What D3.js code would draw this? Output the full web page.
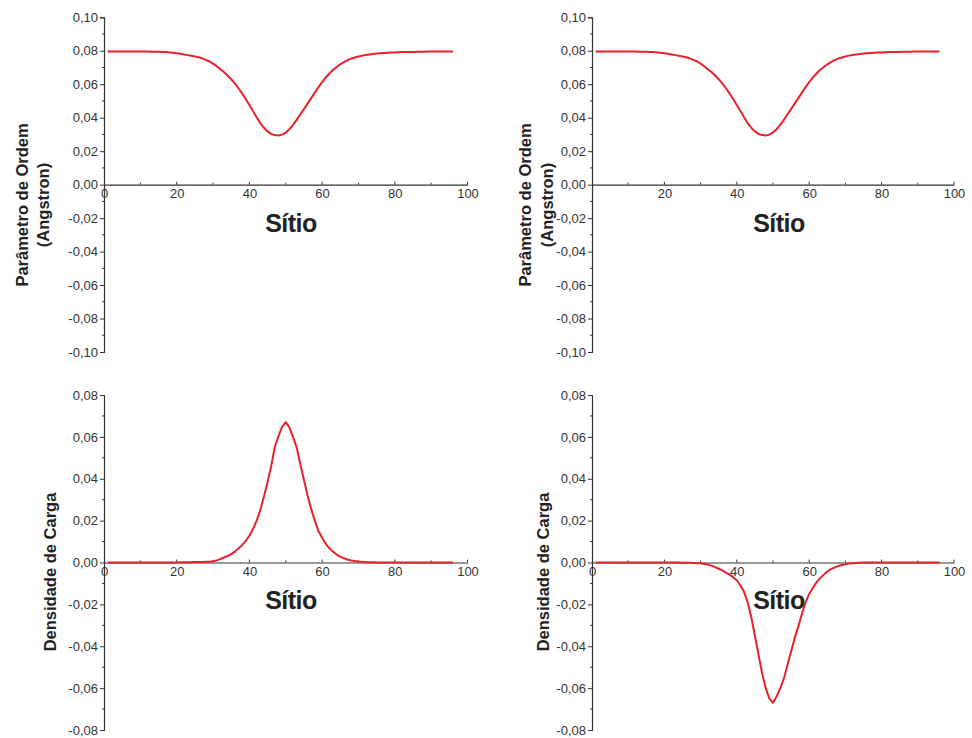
<!DOCTYPE html>
<html>
<head>
<meta charset="utf-8">
<script src="https://cdn.jsdelivr.net/npm/d3@7"></script>
<style>
  html, body { margin: 0; padding: 0; background: #fff; }
  svg { display: block; }
  text { font-family: "Liberation Sans", Arial, sans-serif; }
</style>
</head>
<body>
<svg id="chart" width="972" height="738"></svg>
<script>
// ---------- DATA ----------
const sites = d3.range(1, 97); // 1..96

// Order parameter (Angstron), sites 1..96
const orderParam = [
  0.0795, 0.0795, 0.0795, 0.0795, 0.0795, 0.0795, 0.0795, 0.0795, 0.0795, 0.0795,
  0.0795, 0.0795, 0.0794, 0.0794, 0.0794, 0.0793, 0.0792, 0.0790, 0.0788, 0.0785,
  0.0782, 0.0778, 0.0774, 0.0770, 0.0766, 0.0761, 0.0755, 0.0746, 0.0736, 0.0723,
  0.0708, 0.0690, 0.0673, 0.0652, 0.0630, 0.0605, 0.0576, 0.0545, 0.0512, 0.0476,
  0.0440, 0.0402, 0.0368, 0.0340, 0.0318, 0.0303, 0.0296, 0.0294, 0.0299, 0.0311,
  0.0331, 0.0357, 0.0387, 0.0419, 0.0451, 0.0484, 0.0517, 0.0550, 0.0583, 0.0613,
  0.0640, 0.0664, 0.0685, 0.0703, 0.0719, 0.0732, 0.0744, 0.0753, 0.0760, 0.0766,
  0.0771, 0.0775, 0.0778, 0.0781, 0.0783, 0.0785, 0.0787, 0.0788, 0.0789, 0.0790,
  0.0791, 0.0792, 0.0792, 0.0793, 0.0793, 0.0794, 0.0794, 0.0794, 0.0795, 0.0795,
  0.0795, 0.0795, 0.0795, 0.0795, 0.0795, 0.0795
];

// Charge density, left panel (positive peak), sites 1..96
const chargeLeft = [
  0, 0, 0, 0, 0, 0, 0, 0, 0, 0,
  0, 0, 0, 0, 0, 0, 0, 0, 0, 0,
  0.0001, 0.0001, 0.0001, 0.0001, 0.0002, 0.0002, 0.0002, 0.0003, 0.0004, 0.0006,
  0.0010, 0.0016, 0.0024, 0.0031, 0.0040, 0.0052, 0.0067, 0.0083, 0.0103, 0.0128,
  0.0160, 0.0200, 0.0250, 0.0315, 0.0385, 0.0460, 0.0553, 0.0604, 0.0648, 0.0670,
  0.0645, 0.0600, 0.0550, 0.0470, 0.0395, 0.0320, 0.0255, 0.0200, 0.0150, 0.0118,
  0.0090, 0.0068, 0.0052, 0.0038, 0.0028, 0.0020, 0.0014, 0.0010, 0.0007, 0.0005,
  0.0003, 0.0002, 0.0001, 0.0001, 0, 0, 0, 0, 0, 0,
  0, 0, 0, 0, 0, 0, 0, 0, 0, 0,
  0, 0, 0, 0, 0, 0
];

// Charge density, right panel (negative dip), sites 1..96
const chargeRight = [
  0, 0, 0, 0, 0, 0, 0, 0, 0, 0,
  0, 0, 0, 0, 0, 0, 0, 0, 0, 0,
  0, 0, 0, 0, -0.0001, -0.0001, -0.0001, -0.0002, -0.0003, -0.0004,
  -0.0007, -0.0010, -0.0015, -0.0022, -0.0030, -0.0038, -0.0048, -0.0058, -0.0070, -0.0085,
  -0.0110, -0.0140, -0.0190, -0.0260, -0.0350, -0.0440, -0.0530, -0.0600, -0.0650, -0.0670,
  -0.0640, -0.0600, -0.0555, -0.0490, -0.0425, -0.0360, -0.0305, -0.0245, -0.0190, -0.0150,
  -0.0122, -0.0095, -0.0075, -0.0058, -0.0043, -0.0032, -0.0024, -0.0017, -0.0012, -0.0008,
  -0.0005, -0.0003, -0.0002, -0.0001, 0, 0, 0, 0, 0, 0,
  0, 0, 0, 0, 0, 0, 0, 0, 0, 0,
  0, 0, 0, 0, 0, 0
];

const xTicks = [0, 20, 40, 60, 80, 100];
const xMinor = [10, 30, 50, 70, 90];
const yTicksTop = [0.10, 0.08, 0.06, 0.04, 0.02, 0.00, -0.02, -0.04, -0.06, -0.08, -0.10];
const yTicksBottom = [0.08, 0.06, 0.04, 0.02, 0.00, -0.02, -0.04, -0.06, -0.08];
const xTitle = "Sítio";
const yTitleTop = ["Parâmetro de Ordem", "(Angstron)"];
const yTitleBottom = ["Densidade de Carga"];

// ---------- DRAW ----------
const svg = d3.select("#chart");
const AX = "#333333";
const RED = "#e8212b";
const fmt = v => d3.format(".2f")(v).replace(".", ",").replace("−", "-");

function panel(opt) {
  const g = svg.append("g");
  const x = d3.scaleLinear().domain([0, 100]).range([opt.x0, opt.x0 + opt.w]);
  const y = d3.scaleLinear().domain(opt.yDomain).range([opt.yBottom, opt.yTop]);
  const y0 = y(0);

  // y axis (ticks outward to the left)
  const yAxis = d3.axisLeft(y).tickValues(opt.yTicks).tickFormat(fmt).tickSize(4).tickPadding(2);
  const ga = g.append("g").attr("transform", `translate(${opt.x0},0)`).call(yAxis);
  ga.select(".domain").attr("stroke", AX).attr("stroke-width", 1.2);
  ga.selectAll(".tick line").attr("stroke", AX);
  ga.selectAll(".tick text").attr("fill", AX).style("font-size", "13px")
    .style("font-family", '"Liberation Sans", Arial, sans-serif');
  // y minor ticks
  const step = 0.02;
  const yMin = [];
  for (let i = 0; i < opt.yTicks.length - 1; i++) yMin.push((opt.yTicks[i] + opt.yTicks[i + 1]) / 2);
  g.selectAll(".ymin").data(yMin).enter().append("line")
    .attr("x1", opt.x0 - 2).attr("x2", opt.x0)
    .attr("y1", d => y(d)).attr("y2", d => y(d))
    .attr("stroke", AX).attr("stroke-width", 1);

  // x axis at y=0, ticks inward (up)
  const xAxis = d3.axisBottom(x).tickValues(xTicks).tickFormat(d => (opt.hideZero && d === 0) ? "" : d).tickSize(0).tickPadding(4);
  const gx = g.append("g").attr("transform", `translate(0,${y0})`).call(xAxis);
  gx.select(".domain").attr("stroke", AX).attr("stroke-width", 1.2);
  gx.selectAll(".tick text").attr("fill", AX).style("font-size", "13px")
    .style("font-family", '"Liberation Sans", Arial, sans-serif');
  g.selectAll(".xmaj").data(xTicks.slice(1)).enter().append("line")
    .attr("x1", d => x(d)).attr("x2", d => x(d))
    .attr("y1", y0 - 3).attr("y2", y0)
    .attr("stroke", AX).attr("stroke-width", 1);
  g.selectAll(".xmin").data(xMinor).enter().append("line")
    .attr("x1", d => x(d)).attr("x2", d => x(d))
    .attr("y1", y0 - 2).attr("y2", y0)
    .attr("stroke", AX).attr("stroke-width", 1);

  // curve
  const line = d3.line().x((d, i) => x(sites[i])).y(d => y(d));
  g.append("path").datum(opt.values).attr("d", line)
    .attr("fill", "none").attr("stroke", RED).attr("stroke-width", 2)
    .attr("stroke-linejoin", "round");

  // x title
  g.append("text").attr("x", opt.x0 + 187).attr("y", opt.xTitleY)
    .attr("text-anchor", "middle").attr("fill", "#222")
    .style("font-size", "25px").style("font-weight", "bold").style("letter-spacing", "-0.5px")
    .text(xTitle);

  // y title (rotated)
  const n = opt.yTitle.length;
  opt.yTitle.forEach((t, i) => {
    const bx = opt.titleX + i * 21.6;
    g.append("text")
      .attr("transform", `translate(${bx},${opt.titleY}) rotate(-90)`)
      .attr("text-anchor", "middle").attr("fill", "#222")
      .style("font-size", "16.5px").style("font-weight", "bold")
      .text(t);
  });
}

panel({ x0: 104, w: 363.5, yDomain: [-0.10, 0.10], yTop: 17.3, yBottom: 352, yTicks: yTicksTop,
        values: orderParam, xTitleY: 232, yTitle: yTitleTop, titleX: 27.5, titleY: 205 });
panel({ x0: 592, w: 362, yDomain: [-0.10, 0.10], yTop: 17.3, yBottom: 352, yTicks: yTicksTop,
        values: orderParam, xTitleY: 232, yTitle: yTitleTop, titleX: 531, titleY: 205, hideZero: true });
panel({ x0: 104, w: 363.5, yDomain: [-0.08, 0.08], yTop: 395, yBottom: 730, yTicks: yTicksBottom,
        values: chargeLeft, xTitleY: 609, yTitle: yTitleBottom, titleX: 56, titleY: 572 });
panel({ x0: 592, w: 362, yDomain: [-0.08, 0.08], yTop: 395, yBottom: 730, yTicks: yTicksBottom,
        values: chargeRight, xTitleY: 609, yTitle: yTitleBottom, titleX: 549, titleY: 572 });
</script>
</body>
</html>
